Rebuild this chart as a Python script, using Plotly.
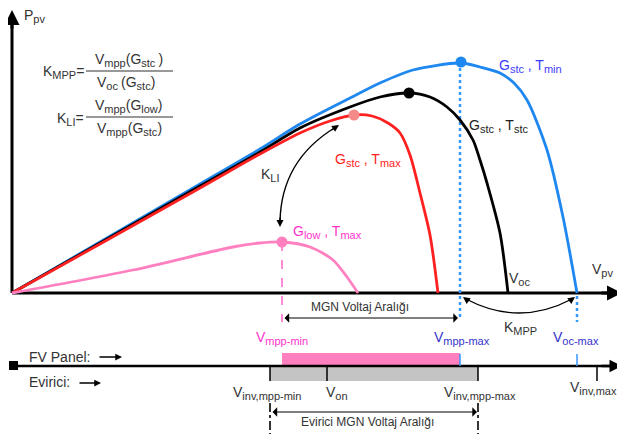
import plotly.graph_objects as go

# ---------------- data (V: horizontal units, P: vertical units) ----------------
blue_v = [0, 88, 188, 248, 288, 338, 368, 401, 448, 468, 488, 502, 515, 535, 551, 565]
blue_p = [0, 51, 109, 144, 169, 195, 210, 223, 230, 226, 220, 210, 193, 143, 76, 0]

black_v = [0, 88, 188, 248, 288, 338, 368, 397, 418, 435, 448, 461, 468, 475, 488, 496]
black_p = [0, 50, 107, 141, 165, 186, 196, 200, 196, 186, 173, 153, 133, 110, 60, 0]

red_v = [0, 88, 188, 248, 288, 318, 342, 360, 376, 388, 398, 408, 418, 426]
red_p = [0, 49, 105, 139, 160, 172, 178, 177, 170, 160, 138, 100, 58, 0]

pink_v = [0, 121, 221, 248, 270, 298, 321, 335, 346]
pink_p = [0, 23, 46, 50, 51, 46, 33, 16, 0]

mpp_v = [449, 397, 342, 270]          # blue, black, red, pink maximum power points
mpp_p = [231, 200, 178, 51]
mpp_colors = ["#1e88f0", "#000000", "#f48a8a", "#ff7fbf"]

V_mpp_min = 270
V_mpp_max = 448
V_oc_max = 565
V_inv_mpp_min = 258
V_on = 315
V_inv_mpp_max = 466
V_inv_max = 585

X0, Y0 = 12, 293   # origin position in the 625x434 frame
OFF = 8            # page body margin


def px(x):
    return x - X0


def py(y):
    return Y0 - y


def sb(s, n=11):
    return f"<sub><span style='font-size:{n}px'>{s}</span></sub>"


fig = go.Figure()

for v, p, c in [(blue_v, blue_p, "#1e88f0"), (black_v, black_p, "#000000"),
                (red_v, red_p, "#ff2020"), (pink_v, pink_p, "#ff80c0")]:
    fig.add_trace(go.Scatter(x=v, y=p, mode="lines", line=dict(color=c, width=2.8, shape="spline", smoothing=0.8),
                             hoverinfo="skip", showlegend=False))

fig.add_trace(go.Scatter(x=mpp_v, y=mpp_p, mode="markers",
                         marker=dict(color=mpp_colors, size=11, line=dict(width=0)),
                         hoverinfo="skip", showlegend=False))

shapes = []
annotations = []


def line(x0, y0, x1, y1, color="#000", width=1.5, dash="solid"):
    shapes.append(dict(type="line", xref="x", yref="y", x0=px(x0), y0=py(y0), x1=px(x1), y1=py(y1),
                       line=dict(color=color, width=width, dash=dash), layer="below"))


def arrow(x0, y0, x1, y1, width=1.5, head=2, size=1.0, side="end", color="#000"):
    annotations.append(dict(x=px(x1), y=py(y1), ax=px(x0), ay=py(y0), xref="x", yref="y",
                            axref="x", ayref="y", text="", showarrow=True, arrowhead=head,
                            arrowsize=size, arrowwidth=width, arrowcolor=color, arrowside=side,
                            startarrowhead=head, startarrowsize=size))


def text(x, y, s, size=14, color="#333333", anchor="left"):
    annotations.append(dict(x=px(x), y=py(y), xref="x", yref="y", text=s, showarrow=False,
                            xanchor=anchor, yanchor="middle",
                            font=dict(size=size, color=color, family="Liberation Sans, Arial")))


# main axes
line(X0, Y0, X0, 22, width=3)
arrow(X0, 30, X0, 10, width=3, head=2, size=1)
line(X0, Y0, 612, Y0, width=3)
arrow(600, Y0, 622, Y0, width=3, head=2, size=1)

# dotted / dashed guides
line(X0 + V_mpp_max, 62, X0 + V_mpp_max, 320, color="#3399ff", width=2.5, dash="dot")
line(X0 + V_oc_max, 296, X0 + V_oc_max, 322, color="#3399ff", width=2.5, dash="dot")
line(X0 + V_mpp_min, 242, X0 + V_mpp_min, 322, color="#ff66cc", width=1.5, dash="dash")
line(X0 + V_inv_mpp_min, 403, X0 + V_inv_mpp_min, 434, color="#333333", width=2, dash="dashdot")
line(X0 + V_inv_mpp_max, 403, X0 + V_inv_mpp_max, 434, color="#333333", width=2, dash="dashdot")

# voltage range double arrows
arrow(X0 + V_mpp_min + 1, 318, X0 + V_mpp_max - 2, 318, width=1.2, head=1, size=1.3, side="end+start")
arrow(X0 + V_inv_mpp_min + 1, 412, X0 + V_inv_mpp_max - 1, 412, width=1.2, head=1, size=1.3, side="end+start")

# bars
shapes.append(dict(type="rect", xref="x", yref="y", x0=V_mpp_min, x1=V_mpp_max, y0=py(366), y1=py(353),
                   fillcolor="#ff7fbf", line=dict(width=0), layer="below"))
shapes.append(dict(type="rect", xref="x", yref="y", x0=V_inv_mpp_min, x1=V_inv_mpp_max, y0=py(381), y1=py(367),
                   fillcolor="#c4c4c4", line=dict(width=0), layer="below"))
line(X0, 366, 612, 366, width=2.5)
arrow(600, 366, 622, 366, width=2.5, head=2, size=1)
shapes.append(dict(type="rect", xref="x", yref="y", x0=px(9), x1=px(18), y0=py(370), y1=py(361),
                   fillcolor="#000", line=dict(width=0)))
for xv in [V_inv_mpp_min, V_on, V_inv_mpp_max, V_inv_max]:
    line(X0 + xv, 367, X0 + xv, 381, width=1.5)
for xv in [V_mpp_max, V_oc_max]:
    line(X0 + xv, 354, X0 + xv, 366, color="#3399ff", width=1.5)

# small arrows after labels
arrow(98, 357, 122, 357, width=1.5, head=2, size=0.9)
arrow(78, 383, 101, 383, width=1.5, head=2, size=0.9)

# curved arrows
shapes.append(dict(type="path", xref="x", yref="y",
                   path=f"M {px(336)},{py(127)} Q {px(281)},{py(160)} {px(280)},{py(222)}",
                   line=dict(color="#000", width=1.4)))
arrow(330, 131, 339, 125, width=1.4, head=2, size=1)
arrow(280, 216, 280, 227, width=1.4, head=2, size=1)

shapes.append(dict(type="path", xref="x", yref="y",
                   path=f"M {px(466)},{py(299)} Q {px(519)},{py(327)} {px(572)},{py(299)}",
                   line=dict(color="#000", width=1.4)))
arrow(470, 302, 463, 297, width=1.4, head=2, size=1)
arrow(568, 302, 575, 297, width=1.4, head=2, size=1)

# formulas
text(22, 16, "P" + sb("pv"), size=14)
text(86, 72, "K" + sb("MPP") + "=", size=14, anchor="right")
text(129, 60, "V" + sb("mpp") + "(G" + sb("stc ") + ")", size=14, anchor="center")
text(126, 83, "V" + sb("oc ") + "(G" + sb("stc") + ")", size=14, anchor="center")
line(86, 71, 173, 71, color="#333", width=1.2)
text(86, 119, "K" + sb("LI") + "=", size=14, anchor="right")
text(129, 106, "V" + sb("mpp") + "(G" + sb("low") + ")", size=14, anchor="center")
text(129, 129, "V" + sb("mpp") + "(G" + sb("stc") + ")", size=14, anchor="center")
line(86, 117, 173, 117, color="#333", width=1.2)

# curve labels
text(497, 66, "G" + sb("stc") + " , T" + sb("min"), color="#3b3bff")
text(467, 126, "G" + sb("stc") + " , T" + sb("stc"), color="#222222")
text(333, 160, "G" + sb("stc") + " , T" + sb("max"), color="#ff2222")
text(291, 232, "G" + sb("low") + " , T" + sb("max"), color="#ff33cc")
text(259, 175, "K" + sb("LI"))
text(590, 270, "V" + sb("pv"))
text(507, 279, "V" + sb("oc"))

# lower annotations
text(309, 307, "MGN Voltaj Aralığı", size=12)
text(254, 338, "V" + sb("mpp-min"), color="#ff33cc")
text(432, 338, "V" + sb("mpp-max"), color="#3333cc")
text(502, 328, "K" + sb("MPP"))
text(551, 338, "V" + sb("oc-max"), color="#3333cc")
text(27, 357, "FV Panel:")
text(27, 382, "Evirici:")
text(231, 393, "V" + sb("inv,mpp-min"))
text(324, 393, "V" + sb("on"))
text(442, 393, "V" + sb("inv,mpp-max"))
text(568, 388, "V" + sb("inv,max"))
text(299, 422, "Evirici MGN Voltaj Aralığı", size=12)

W, H = 625 - OFF, 434 - OFF
fig.update_layout(
    width=W, height=H, margin=dict(l=0, r=0, t=0, b=0),
    paper_bgcolor="white", plot_bgcolor="white",
    xaxis=dict(range=[px(OFF), px(625)], visible=False, fixedrange=True),
    yaxis=dict(range=[py(434), py(OFF)], visible=False, fixedrange=True),
    shapes=shapes, annotations=annotations, showlegend=False,
)
fig.write_html("out.html")
